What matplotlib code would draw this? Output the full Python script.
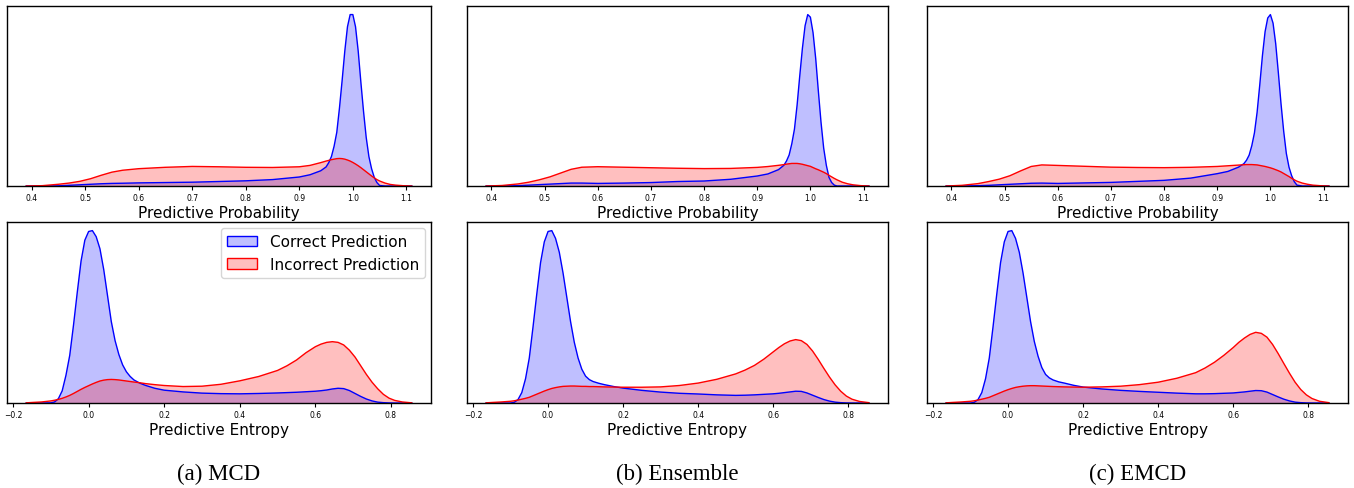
import numpy as np
import matplotlib
matplotlib.use("Agg")
import matplotlib.pyplot as plt
from matplotlib.patches import Patch

# density curves (shared x grid per row)
PROB_X = [0.39, 0.42, 0.45, 0.47, 0.49, 0.51, 0.53, 0.55, 0.57, 0.60,
          0.65, 0.70, 0.75, 0.80, 0.85, 0.90, 0.92, 0.94,
          0.95, 0.955, 0.96, 0.965, 0.97, 0.975, 0.98, 0.985, 0.99, 0.995, 1.00,
          1.005, 1.01, 1.015, 1.02, 1.025, 1.03, 1.035, 1.04, 1.045, 1.05,
          1.06, 1.07, 1.08, 1.095, 1.11]

mcd_prob_correct = [0, 0, 0.001, 0.004, 0.007, 0.010, 0.013, 0.015, 0.016, 0.018,
                    0.02, 0.022, 0.026, 0.03, 0.037, 0.052, 0.065, 0.088,
                    0.11, 0.135, 0.17, 0.23, 0.31, 0.45, 0.61, 0.78, 0.92, 0.99, 0.99,
                    0.92, 0.78, 0.60, 0.43, 0.28, 0.17, 0.10, 0.05, 0.02, 0.003,
                    0, 0, 0, 0, 0]
mcd_prob_wrong = [0.0, 0.002, 0.01, 0.017, 0.027, 0.042, 0.062, 0.08, 0.091, 0.100,
                  0.108, 0.113, 0.111, 0.108, 0.107, 0.111, 0.119, 0.135,
                  0.144, 0.148, 0.152, 0.155, 0.158, 0.159, 0.158, 0.155, 0.150, 0.144, 0.136,
                  0.127, 0.117, 0.106, 0.094, 0.082, 0.070, 0.058, 0.047, 0.037, 0.029,
                  0.017, 0.009, 0.005, 0.0015, 0.0]

ens_prob_correct = [0, 0, 0.002, 0.005, 0.008, 0.011, 0.014, 0.017, 0.017, 0.015,
                    0.017, 0.02, 0.026, 0.029, 0.039, 0.058, 0.07, 0.095,
                    0.12, 0.145, 0.18, 0.245, 0.33, 0.47, 0.64, 0.80, 0.93, 0.995, 0.98,
                    0.89, 0.74, 0.55, 0.37, 0.22, 0.12, 0.05, 0.02, 0.005, 0,
                    0, 0, 0, 0, 0]
ens_prob_wrong = [0.0, 0.003, 0.012, 0.022, 0.036, 0.053, 0.075, 0.097, 0.109, 0.112,
                  0.109, 0.106, 0.103, 0.101, 0.102, 0.108, 0.113, 0.12,
                  0.124, 0.127, 0.129, 0.131, 0.131, 0.131, 0.129, 0.126, 0.122, 0.118, 0.114,
                  0.107, 0.100, 0.094, 0.087, 0.080, 0.072, 0.062, 0.053, 0.044, 0.036,
                  0.022, 0.013, 0.007, 0.002, 0.0]

emcd_prob_correct = [0, 0, 0.002, 0.004, 0.007, 0.010, 0.013, 0.016, 0.017, 0.015,
                     0.018, 0.021, 0.027, 0.033, 0.046, 0.072, 0.085, 0.11,
                     0.13, 0.15, 0.18, 0.235, 0.31, 0.43, 0.59, 0.76, 0.90, 0.98, 1.0,
                     0.95, 0.83, 0.66, 0.48, 0.32, 0.19, 0.11, 0.06, 0.025, 0.005,
                     0, 0, 0, 0, 0]
emcd_prob_wrong = [0.0, 0.004, 0.014, 0.026, 0.04, 0.06, 0.088, 0.114, 0.123, 0.120,
                   0.115, 0.110, 0.108, 0.107, 0.109, 0.114, 0.118, 0.122,
                   0.124, 0.125, 0.125, 0.125, 0.124, 0.123, 0.12, 0.117, 0.114, 0.110, 0.106,
                   0.101, 0.095, 0.089, 0.082, 0.073, 0.064, 0.055, 0.045, 0.036, 0.028,
                   0.017, 0.01, 0.005, 0.0015, 0.0]

ENT_X = [-0.165, -0.15, -0.125, -0.1,
         -0.09, -0.08, -0.07, -0.06, -0.05, -0.04, -0.03, -0.02, -0.01, 0.0,
         0.01, 0.02, 0.03, 0.04, 0.05, 0.06, 0.07, 0.08, 0.09, 0.10,
         0.11, 0.12, 0.135, 0.15, 0.175,
         0.2, 0.25, 0.3, 0.35, 0.4, 0.45, 0.5,
         0.525, 0.55, 0.575, 0.6,
         0.615, 0.63, 0.645, 0.66, 0.675, 0.69, 0.705, 0.72, 0.735, 0.75,
         0.765, 0.78, 0.795, 0.81, 0.83, 0.855]

mcd_ent_correct = [0, 0, 0, 0.001,
                   0.006, 0.025, 0.07, 0.16, 0.275, 0.45, 0.64, 0.82, 0.94, 0.99,
                   0.995, 0.96, 0.89, 0.77, 0.62, 0.47, 0.36, 0.28, 0.22, 0.18,
                   0.153, 0.133, 0.115, 0.102, 0.085,
                   0.074, 0.064, 0.057, 0.054, 0.053, 0.055, 0.058,
                   0.06, 0.062, 0.065, 0.068,
                   0.071, 0.075, 0.081, 0.085, 0.083, 0.072, 0.055, 0.038, 0.023, 0.012,
                   0.005, 0.002, 0.0005, 0, 0, 0]
mcd_ent_wrong = [0.001, 0.003, 0.006, 0.012,
                 0.016, 0.021, 0.027, 0.035, 0.044, 0.055, 0.067, 0.079, 0.09, 0.10,
                 0.11, 0.119, 0.127, 0.132, 0.135, 0.136, 0.135, 0.133, 0.130, 0.127,
                 0.124, 0.121, 0.117, 0.112, 0.106,
                 0.101, 0.095, 0.097, 0.108, 0.128, 0.153, 0.188,
                 0.215, 0.248, 0.29, 0.325,
                 0.34, 0.35, 0.354, 0.35, 0.335, 0.305, 0.265, 0.215, 0.165, 0.12,
                 0.082, 0.05, 0.028, 0.015, 0.006, 0.001]

ens_ent_correct = [0, 0, 0, 0,
                   0.004, 0.02, 0.06, 0.14, 0.26, 0.44, 0.63, 0.81, 0.93, 0.99,
                   0.995, 0.95, 0.87, 0.75, 0.61, 0.47, 0.35, 0.26, 0.195, 0.155,
                   0.135, 0.124, 0.114, 0.106, 0.095,
                   0.086, 0.073, 0.063, 0.056, 0.052, 0.047, 0.044,
                   0.045, 0.047, 0.05, 0.053,
                   0.056, 0.06, 0.064, 0.068, 0.067, 0.058, 0.045, 0.032, 0.02, 0.011,
                   0.005, 0.002, 0.0005, 0, 0, 0]
ens_ent_wrong = [0.001, 0.003, 0.006, 0.01,
                 0.013, 0.017, 0.022, 0.027, 0.033, 0.042, 0.051, 0.06, 0.069, 0.077,
                 0.084, 0.089, 0.093, 0.096, 0.097, 0.098, 0.098, 0.097, 0.096, 0.096,
                 0.095, 0.095, 0.094, 0.093, 0.092,
                 0.091, 0.091, 0.093, 0.101, 0.115, 0.137, 0.168,
                 0.19, 0.217, 0.253, 0.295,
                 0.32, 0.342, 0.358, 0.366, 0.36, 0.338, 0.3, 0.252, 0.2, 0.15,
                 0.105, 0.068, 0.04, 0.022, 0.009, 0.002]

emcd_ent_correct = [0, 0, 0, 0,
                    0.004, 0.02, 0.06, 0.14, 0.26, 0.44, 0.63, 0.81, 0.93, 0.99,
                    0.995, 0.95, 0.87, 0.75, 0.61, 0.47, 0.355, 0.27, 0.205, 0.165,
                    0.145, 0.133, 0.122, 0.115, 0.102,
                    0.092, 0.081, 0.073, 0.067, 0.062, 0.057, 0.053,
                    0.053, 0.054, 0.056, 0.058,
                    0.061, 0.064, 0.068, 0.072, 0.071, 0.063, 0.049, 0.035, 0.022, 0.012,
                    0.005, 0.002, 0.0005, 0, 0, 0]
emcd_ent_wrong = [0.001, 0.003, 0.006, 0.01,
                  0.013, 0.017, 0.022, 0.027, 0.033, 0.042, 0.051, 0.06, 0.069, 0.077,
                  0.084, 0.09, 0.094, 0.097, 0.099, 0.10, 0.10, 0.099, 0.098, 0.097,
                  0.096, 0.095, 0.094, 0.093, 0.092,
                  0.091, 0.093, 0.097, 0.106, 0.12, 0.143, 0.175,
                  0.202, 0.235, 0.275, 0.32,
                  0.35, 0.375, 0.396, 0.408, 0.402, 0.38, 0.338, 0.285, 0.228, 0.172,
                  0.12, 0.078, 0.047, 0.026, 0.01, 0.002]

captions = ["(a) MCD", "(b) Ensemble", "(c) EMCD"]
prob_curves = [(mcd_prob_correct, mcd_prob_wrong),
               (ens_prob_correct, ens_prob_wrong),
               (emcd_prob_correct, emcd_prob_wrong)]
ent_curves = [(mcd_ent_correct, mcd_ent_wrong),
              (ens_ent_correct, ens_ent_wrong),
              (emcd_ent_correct, emcd_ent_wrong)]

W, H = 1354, 489
fig = plt.figure(figsize=(W / 100, H / 100), dpi=100)

# axes boxes in pixels
cols = [(7, 431), (467, 888), (927, 1348)]  # left, right
rows = [(7, 187), (223, 404)]  # top, bottom


def kde_panel(ax, x, correct, wrong, xlabel):
    for y, c in ((correct, "blue"), (wrong, "red")):
        ax.plot(x, y, color=c, lw=1)
        ax.fill_between(x, 0, y, facecolor=c, alpha=0.25, lw=0)
    ax.set_ylim(bottom=0)
    ax.set_yticks([])
    ax.tick_params(axis="x", labelsize=5.5, length=3, width=0.8, pad=2)
    ax.set_xlabel(xlabel, fontsize=11, labelpad=2)
    for s in ax.spines.values():
        s.set_linewidth(1)


for i, (l, r) in enumerate(cols):
    for j, (t, b) in enumerate(rows):
        ax = fig.add_axes([l / W, 1 - b / H, (r - l) / W, (b - t) / H])
        if j == 0:
            kde_panel(ax, PROB_X, *prob_curves[i], "Predictive Probability")
            ax.set_xticks([0.4, 0.5, 0.6, 0.7, 0.8, 0.9, 1.0, 1.1])
        else:
            kde_panel(ax, ENT_X, *ent_curves[i], "Predictive Entropy")
            ax.set_xticks([-0.2, 0.0, 0.2, 0.4, 0.6, 0.8])
            if i == 0:
                handles = [Patch(facecolor=(0, 0, 1, 0.25), edgecolor="blue", label="Correct Prediction"),
                           Patch(facecolor=(1, 0, 0, 0.25), edgecolor="red", label="Incorrect Prediction")]
                ax.legend(handles=handles, loc="upper right", fontsize=11,
                          handlelength=2.0, borderaxespad=0.4)
    fig.text((l + r) / 2 / W, 0.03, captions[i], ha="center", va="center",
             fontsize=16.5, family="Liberation Serif")

fig.savefig("out.png", dpi=100)
